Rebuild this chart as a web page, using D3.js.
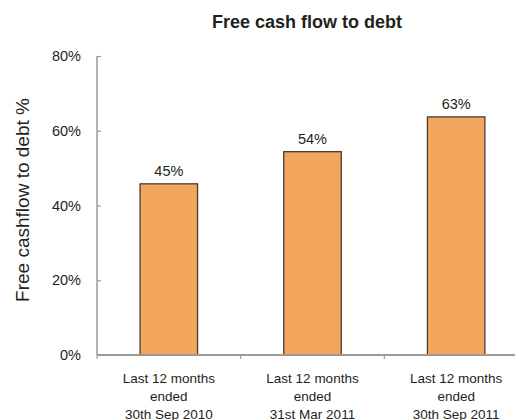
<!DOCTYPE html>
<html>
<head>
<meta charset="utf-8">
<script src="https://cdn.jsdelivr.net/npm/d3@7"></script>
<style>
  html, body { margin: 0; padding: 0; background: #fff; }
  svg { display: block; font-family: "Liberation Sans", Arial, sans-serif; }
</style>
</head>
<body>
<svg id="chart" width="515" height="420"></svg>
<script>
const categories = [
  ["Last 12 months", "ended", "30th Sep 2010"],
  ["Last 12 months", "ended", "31st Mar 2011"],
  ["Last 12 months", "ended", "30th Sep 2011"]
];
const values = [45.8, 54.4, 63.7];
const valueLabels = ["45%", "54%", "63%"];
const yTicks = [0, 20, 40, 60, 80];
const title = "Free cash flow to debt";
const yTitle = "Free cashflow to debt %";

const svg = d3.select("#chart");
const mLeft = 97, mRight = 528, mTop = 56, mBottom = 355;

const x = d3.scaleBand()
  .domain(d3.range(categories.length))
  .range([mLeft, mRight])
  .paddingInner(0.6)
  .paddingOuter(0.3);

const y = d3.scaleLinear().domain([0, 80]).range([mBottom, mTop]);

// Title
svg.append("text")
  .attr("x", 307).attr("y", 28)
  .attr("text-anchor", "middle")
  .attr("font-size", 18).attr("font-weight", "bold")
  .attr("fill", "#231f20")
  .text(title);

// Y axis title
svg.append("text")
  .attr("transform", `translate(29,200) rotate(-90)`)
  .attr("text-anchor", "middle")
  .attr("font-size", 19)
  .attr("fill", "#231f20")
  .text(yTitle);

// Bars
svg.append("g").selectAll("rect")
  .data(values)
  .join("rect")
  .attr("x", (d, i) => x(i))
  .attr("width", x.bandwidth())
  .attr("y", d => y(d))
  .attr("height", d => y(0) - y(d))
  .attr("fill", "#f2a65e")
  .attr("stroke", "#4a3b31")
  .attr("stroke-width", 1.3);

// Value labels
svg.append("g").selectAll("text")
  .data(values)
  .join("text")
  .attr("x", (d, i) => x(i) + x.bandwidth() / 2)
  .attr("y", d => y(d) - 8)
  .attr("text-anchor", "middle")
  .attr("font-size", 14.5)
  .attr("fill", "#231f20")
  .text((d, i) => valueLabels[i]);

// Y axis
const yAxis = d3.axisRight(y)
  .tickValues(yTicks)
  .tickSize(4)
  .tickFormat("");
const yg = svg.append("g").attr("transform", `translate(${mLeft},0)`).call(yAxis);
yg.select(".domain").attr("stroke", "#9a9a9a").attr("stroke-width", 1.5).attr("d", `M0,${mTop}V${mBottom}`);
yg.selectAll(".tick line").attr("stroke", "#9a9a9a").attr("stroke-width", 1.2);

svg.append("g").selectAll("text")
  .data(yTicks)
  .join("text")
  .attr("x", 81)
  .attr("y", d => y(d))
  .attr("dy", "0.35em")
  .attr("text-anchor", "end")
  .attr("font-size", 14.5)
  .attr("fill", "#231f20")
  .text(d => d + "%");

// X axis
const xEdges = d3.range(categories.length + 1).map(i => mLeft + i * x.step());
svg.append("line")
  .attr("x1", mLeft).attr("x2", mRight)
  .attr("y1", mBottom).attr("y2", mBottom)
  .attr("stroke", "#9a9a9a").attr("stroke-width", 2);
svg.append("g").selectAll("line")
  .data(xEdges)
  .join("line")
  .attr("x1", d => d).attr("x2", d => d)
  .attr("y1", mBottom).attr("y2", mBottom + 4)
  .attr("stroke", "#9a9a9a").attr("stroke-width", 1.2);

// X labels
const xl = svg.append("g").selectAll("text")
  .data(categories)
  .join("text")
  .attr("x", (d, i) => x(i) + x.bandwidth() / 2)
  .attr("y", 383)
  .attr("text-anchor", "middle")
  .attr("font-size", 13.5)
  .attr("fill", "#231f20");
xl.each(function(d) {
  const t = d3.select(this);
  d.forEach((line, j) => {
    t.append("tspan")
      .attr("x", t.attr("x"))
      .attr("dy", j === 0 ? 0 : 18)
      .text(line);
  });
});
</script>
</body>
</html>
